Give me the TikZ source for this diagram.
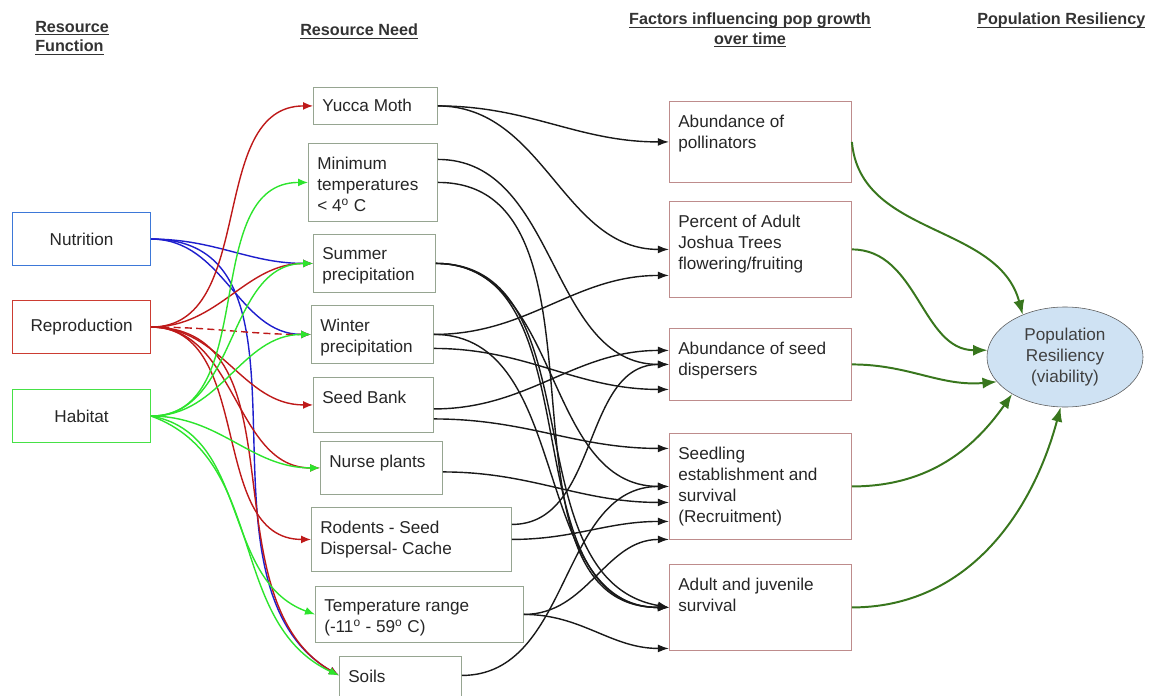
\documentclass[tikz,border=0pt]{standalone}
\usepackage{amsmath}
\usepackage{fontspec}
\setmainfont{Liberation Sans}
\usetikzlibrary{arrows.meta,shapes.geometric}

\definecolor{nutblue}{RGB}{61,120,216}
\definecolor{repred}{RGB}{204,60,50}
\definecolor{habgreen}{RGB}{70,225,70}
\definecolor{lnblue}{RGB}{30,30,205}
\definecolor{lnred}{RGB}{190,25,25}
\definecolor{lngreen}{RGB}{45,228,45}
\definecolor{needgray}{RGB}{150,165,145}
\definecolor{factbrown}{RGB}{190,140,140}
\definecolor{resgreen}{RGB}{56,118,29}
\definecolor{resfill}{RGB}{207,226,243}

\newcommand\hdul[1]{\underline{\smash[b]{#1}}}

\tikzset{
  head/.style={font=\fontsize{11.5}{13.6}\selectfont\bfseries, inner sep=0pt, text=black!80},
  func/.style={draw=#1, line width=0.8pt, minimum width=3.45cm, minimum height=1.325cm, anchor=north west, font=\fontsize{12.2}{14.9}\selectfont, text=black!85},
  need/.style 2 args={draw=needgray, line width=0.6pt, minimum width=#1, minimum height=#2, anchor=north west},
  factor/.style={draw=factbrown, line width=0.6pt, minimum width=4.55cm, minimum height=#1, anchor=north west},
  lbl/.style={anchor=north west, align=left, inner xsep=0.225cm, inner ysep=0.34cm, font=\fontsize{12.2}{14.9}\selectfont, text=black!85},
  blueln/.style={draw=lnblue, line width=1pt, -{Latex[length=0.25cm,width=0.2cm]}},
  redln/.style={draw=lnred, line width=1pt, -{Latex[length=0.25cm,width=0.2cm]}},
  greenln/.style={draw=lngreen, line width=1pt, -{Latex[length=0.25cm,width=0.2cm]}},
  blackln/.style={draw=black!90, line width=1pt, -{Latex[length=0.28cm,width=0.2cm]}},
  resln/.style={draw=resgreen, line width=1.4pt, -{Latex[length=0.36cm,width=0.28cm]}}
}

\begin{document}
\begin{tikzpicture}[x=0.025cm,y=-0.025cm]
\useasboundingbox (0,0) rectangle (1150,696);

% column headers
\node[head, anchor=north west, align=left] (hfunc) at (35,21) {\hdul{Resource}\\\hdul{Function}};
\node[head, anchor=north west] (hneed) at (300,24) {\hdul{Resource Need}};
\node[head, anchor=north, align=center] (hfact) at (750,13) {\hdul{Factors influencing pop growth}\\\hdul{over time}};
\node[head, anchor=north west] (hres) at (977,13) {\hdul{Population Resiliency}};

% resource function
\node[func=nutblue] (nutr) at (12,212) {Nutrition};
\node[func=repred] (repro) at (12,300) {Reproduction};
\node[func=habgreen] (hab) at (12,389) {Habitat};

% resource need
\node[need={3.1cm}{0.925cm}, label={[lbl, inner ysep=0.29cm]north west:Yucca Moth}] (moth) at (313,87) {};
\node[need={3.225cm}{1.95cm}, label={[lbl]north west:{Minimum\\temperatures\\< 4\textsuperscript{o} C}}] (mint) at (308,143) {};
\node[need={3.05cm}{1.45cm}, label={[lbl]north west:{Summer\\precipitation}}] (summ) at (313,234) {};
\node[need={3.05cm}{1.45cm}, label={[lbl]north west:{Winter\\precipitation}}] (wint) at (311,305) {};
\node[need={3.0cm}{1.375cm}, label={[lbl]north west:Seed Bank}] (bank) at (313,377) {};
\node[need={3.05cm}{1.325cm}, label={[lbl]north west:Nurse plants}] (nurse) at (320,441) {};
\node[need={5.0cm}{1.6cm}, label={[lbl]north west:{Rodents - Seed\\Dispersal- Cache}}] (rodent) at (311,507) {};
\node[need={5.2cm}{1.4cm}, label={[lbl]north west:{Temperature range\\(-11\textsuperscript{o} - 59\textsuperscript{o} C)}}] (trange) at (315,586) {};
\node[need={3.05cm}{1.15cm}, label={[lbl]north west:Soils}] (soil) at (339,656) {};

% factors
\node[factor=2.025cm, label={[lbl]north west:{Abundance of\\pollinators}}] (pollin) at (669,101) {};
\node[factor=2.4cm, label={[lbl]north west:{Percent of Adult\\Joshua Trees\\flowering/fruiting}}] (flower) at (669,201) {};
\node[factor=1.8cm, label={[lbl]north west:{Abundance of seed\\dispersers}}] (disper) at (669,328) {};
\node[factor=2.65cm, label={[lbl]north west:{Seedling\\establishment and\\survival\\(Recruitment)}}] (recruit) at (669,433) {};
\node[factor=2.15cm, label={[lbl]north west:{Adult and juvenile\\survival}}] (survive) at (669,564) {};

\node[ellipse, draw=black!65, fill=resfill, minimum width=3.9cm, minimum height=2.5cm, inner sep=0pt, align=center, font=\fontsize{12.2}{14.9}\selectfont, text=black!75] (resil) at (1065,357) {Population\\Resiliency\\(viability)};

% nutrition
\draw[blueln] (nutr.east) to[out=0,in=180] (summ.west);
\draw[blueln] (nutr.east) to[out=0,in=180] (wint.west);
\draw[blueln] (nutr.east) to[out=0,in=150] ([yshift=0.1cm]soil.west);

% reproduction
\draw[redln] (repro.east) to[out=0,in=180] (moth.west);
\draw[redln] (repro.east) to[out=0,in=180] (summ.west);
\draw[redln, dash pattern=on 5pt off 3pt] (repro.east) to[out=0,in=180] (wint.west);
\draw[redln] (repro.east) to[out=0,in=180] (bank.west);
\draw[redln] (repro.east) to[out=0,in=180] (nurse.west);
\draw[redln] (repro.east) to[out=0,in=180] (rodent.west);
\draw[redln] (repro.east) to[out=0,in=150] ([yshift=0.1cm]soil.west);

% habitat
\draw[greenln] (hab.east) to[out=0,in=180] (mint.west);
\draw[greenln] (hab.east) to[out=0,in=180] (summ.west);
\draw[greenln] (hab.east) to[out=0,in=180] (wint.west);
\draw[greenln] (hab.east) to[out=0,in=180] (nurse.west);
\draw[greenln] (hab.east) to[out=-10,in=160] (trange.west);
\draw[greenln] (hab.east) to[out=-20,in=155] ([yshift=0.1cm]soil.west);

% needs to factors
\draw[blackln] (moth.east) to[out=0,in=180] (pollin.west);
\draw[blackln] (moth.east) to[out=0,in=180] (flower.west);
\draw[blackln] ([yshift=0.575cm]mint.east) to[out=0,in=180] (disper.west);
\draw[blackln] (mint.east) to[out=0,in=180] (survive.west);
\draw[blackln] (summ.east) to[out=0,in=180] (recruit.west);
\draw[blackln] (summ.east) to[out=0,in=180] (survive.west);
\draw[blackln] (summ.east) to[out=0,in=170] (survive.west);
\draw[blackln] (wint.east) to[out=0,in=180] ([yshift=-0.65cm]flower.west);
\draw[blackln] (wint.east) to[out=0,in=180] (survive.west);
\draw[blackln] ([yshift=-0.35cm]wint.east) to[out=0,in=180] ([yshift=-0.625cm]disper.west);
\draw[blackln] ([yshift=-0.1cm]bank.east) to[out=0,in=180] ([yshift=0.35cm]disper.west);
\draw[blackln] ([yshift=-0.35cm]bank.east) to[out=0,in=180] ([yshift=0.95cm]recruit.west);
\draw[blackln] ([yshift=-0.1cm]nurse.east) to[out=0,in=180] ([yshift=-0.4cm]recruit.west);
\draw[blackln] ([yshift=0.375cm]rodent.east) to[out=0,in=180] (disper.west);
\draw[blackln] (rodent.east) to[out=0,in=180] ([yshift=-0.875cm]recruit.west);
\draw[blackln] (trange.east) to[out=0,in=180] ([yshift=-1.325cm]recruit.west);
\draw[blackln] (trange.east) to[out=0,in=180] ([yshift=-1.025cm]survive.west);
\draw[blackln] ([yshift=0.1cm]soil.east) to[out=0,in=180] (recruit.west);

% factors to resiliency
\draw[resln] (pollin.east) to[out=-85,in=105] (resil.135);
\draw[resln] (flower.east) to[out=0,in=180] (resil.175);
\draw[resln] (disper.east) to[out=0,in=185] (resil.200);
\draw[resln] (recruit.east) to[out=0,in=235] (resil.215);
\draw[resln] (survive.east) to[out=0,in=255] (resil.265);
\end{tikzpicture}
\end{document}
